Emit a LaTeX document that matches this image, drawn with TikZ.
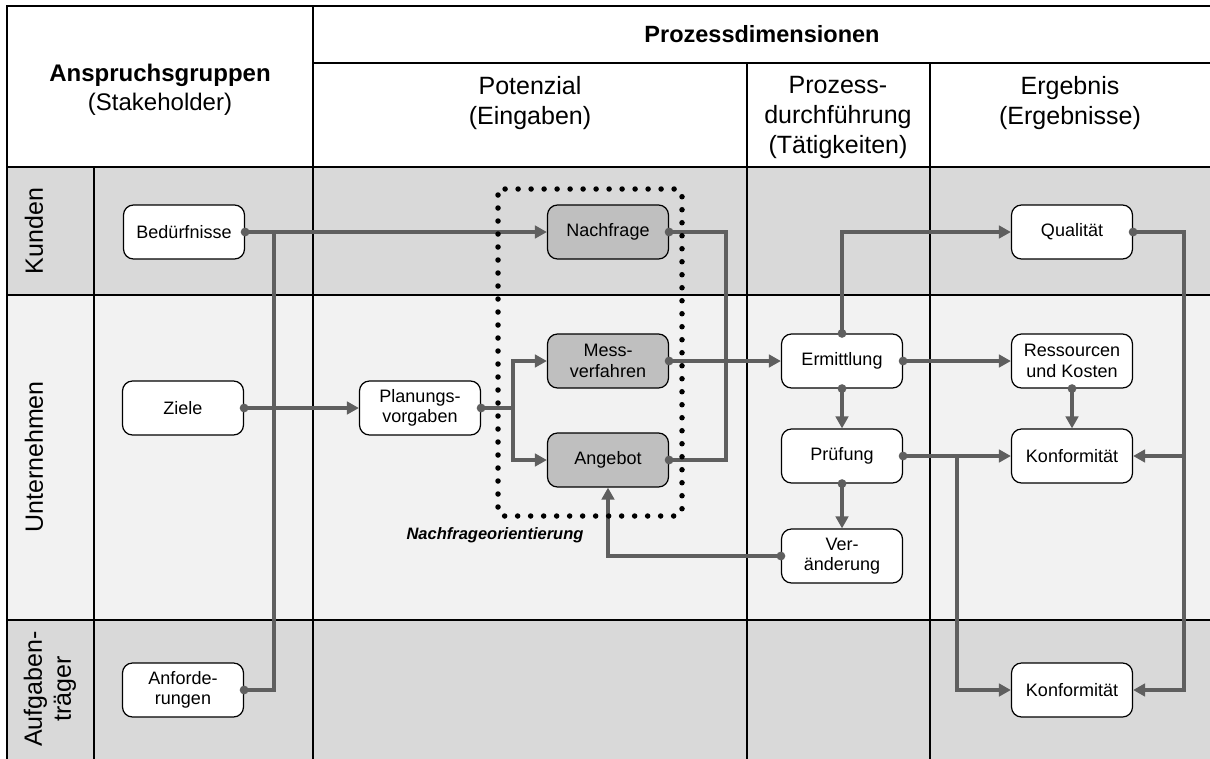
\documentclass[tikz,border=0pt]{standalone}
\usepackage{fontspec}
\setmainfont{Liberation Sans}
\usetikzlibrary{arrows.meta}

\definecolor{lanedark}{HTML}{D9D9D9}
\definecolor{lanelight}{HTML}{F2F2F2}
\definecolor{boxgray}{HTML}{BFBFBF}
\definecolor{wire}{HTML}{5F5F5F}

\tikzset{
  tableline/.style={line width=1.2pt},
  stage/.style={draw=black, line width=1.2pt, rounded corners=10pt, fill=white,
    minimum width=121pt, minimum height=54pt, inner sep=0pt, align=center,
    font=\fontsize{18}{20.5}\selectfont},
  demand/.style={stage, fill=boxgray},
  lanetext/.style={rotate=90, align=center, font=\fontsize{25}{29}\selectfont},
  colhead/.style={anchor=north, align=center, inner sep=0pt, font=\fontsize{25}{30}\selectfont},
  wireline/.style={draw=wire, line width=4pt},
  flow/.style={wireline, {Circle[length=8.5pt]}-{Triangle[length=12pt,width=12.5pt]}, shorten <=-4.25pt},
  tap/.style={wireline, {Circle[length=8.5pt]}-, shorten <=-4.25pt},
  branch/.style={wireline, -{Triangle[length=12pt,width=12.5pt]}},
  tie/.style={wireline, {Circle[length=8.5pt]}-{Circle[length=8.5pt]}, shorten <=-4.25pt, shorten >=-4.25pt},
  orientframe/.style={line width=5.5pt, dash pattern=on 0pt off 13pt, line cap=round, rounded corners=6pt}
}

\begin{document}
\begin{tikzpicture}[x=1pt, y=-1pt]
  \useasboundingbox (0,0) rectangle (1210,758);

  % lanes
  \fill[white] (7,6) rectangle (1212,167);
  \fill[lanedark] (7,167) rectangle (1212,295);
  \fill[lanelight] (7,295) rectangle (1212,620);
  \fill[lanedark] (7,620) rectangle (1212,760);

  % table rules
  \draw[tableline] (7,760) -- (7,6) -- (1212,6);
  \draw[tableline] (313,63) -- (1212,63);
  \foreach \y in {167,295,620}
    \draw[tableline] (7,\y) -- (1212,\y);
  \draw[tableline] (94,167) -- (94,760);
  \draw[tableline] (313,6) -- (313,760);
  \foreach \x in {747,930}
    \draw[tableline] (\x,63) -- (\x,760);

  % headers
  \node[colhead, font=\fontsize{24}{29}\selectfont] (stake) at (160,64) {\textbf{Anspruchsgruppen}\\(Stakeholder)};
  \node[font=\fontsize{23.5}{28}\selectfont\bfseries] (dims) at (762,34) {Prozessdimensionen};
  \node[colhead] (pot) at (530,76) {Potenzial\\(Eingaben)};
  \node[colhead] (proc) at (838,76) {Prozess-\\durchführung\\(Tätigkeiten)};
  \node[colhead] (res) at (1070,76) {Ergebnis\\(Ergebnisse)};

  \node[lanetext] (kunden) at (34,231) {Kunden};
  \node[lanetext] (unter) at (34,457) {Unternehmen};
  \node[lanetext] (aufg) at (50,689) {Aufgaben-\\träger};

  % stages
  \node[stage] (bed) at (184,232) {Bedürfnisse};
  \node[stage] (ziele) at (183,408) {Ziele};
  \node[stage] (anf) at (183,690) {Anforde-\\rungen};
  \node[stage] (plan) at (420,408) {Planungs-\\vorgaben};
  \node[demand] (nach) at (608,232) {Nachfrage};
  \node[demand] (mess) at (608,361) {Mess-\\verfahren};
  \node[demand] (ang) at (608,460) {Angebot};
  \node[stage] (ermit) at (842,361) {Ermittlung};
  \node[stage] (pruef) at (842,456) {Prüfung};
  \node[stage] (veraend) at (842,556) {Ver-\\änderung};
  \node[stage] (qual) at (1072,232) {Qualität};
  \node[stage] (ress) at (1072,361) {Ressourcen\\und Kosten};
  \node[stage] (konf) at (1072,456) {Konformität};
  \node[stage] (konfb) at (1072,690) {Konformität};

  % junctions
  \coordinate (bedJ) at (274,232);
  \coordinate (planJ) at (513,408);
  \coordinate (potR) at (726,361);
  \coordinate (pruefJ) at (957,456);
  \coordinate (qualJ) at (1184,456);

  % connectors
  \draw[flow] (bed.east) -- (nach.west);
  \draw[tap] (anf.east) -| (bedJ);
  \draw[flow] (ziele.east) -- (plan.west);
  \draw[tap] (plan.east) -- (planJ);
  \draw[branch] (planJ) |- (mess.west);
  \draw[branch] (planJ) |- (ang.west);
  \draw[tie] (nach.east) -| (potR) |- (ang.east);
  \draw[flow] (mess.east) -- (ermit.west);
  \draw[flow] (ermit.north) |- (qual.west);
  \draw[flow] (ermit.east) -- (ress.west);
  \draw[flow] (ermit.south) -- (pruef.north);
  \draw[flow] (pruef.south) -- (veraend.north);
  \draw[flow] (ress.south) -- (konf.north);
  \draw[flow] (pruef.east) -- (konf.west);
  \draw[branch] (pruefJ) |- (konfb.west);
  \draw[flow] (qual.east) -| (qualJ) |- (konfb.east);
  \draw[branch] (qualJ) -- (konf.east);
  \draw[flow] (veraend.west) -| (ang.south);

  % demand orientation frame
  \draw[orientframe] (498,189) rectangle (682,516);
  \node[anchor=east, font=\fontsize{16.5}{18}\selectfont\bfseries\itshape] (orient) at (587,535) {Nachfrageorientierung};
\end{tikzpicture}
\end{document}
